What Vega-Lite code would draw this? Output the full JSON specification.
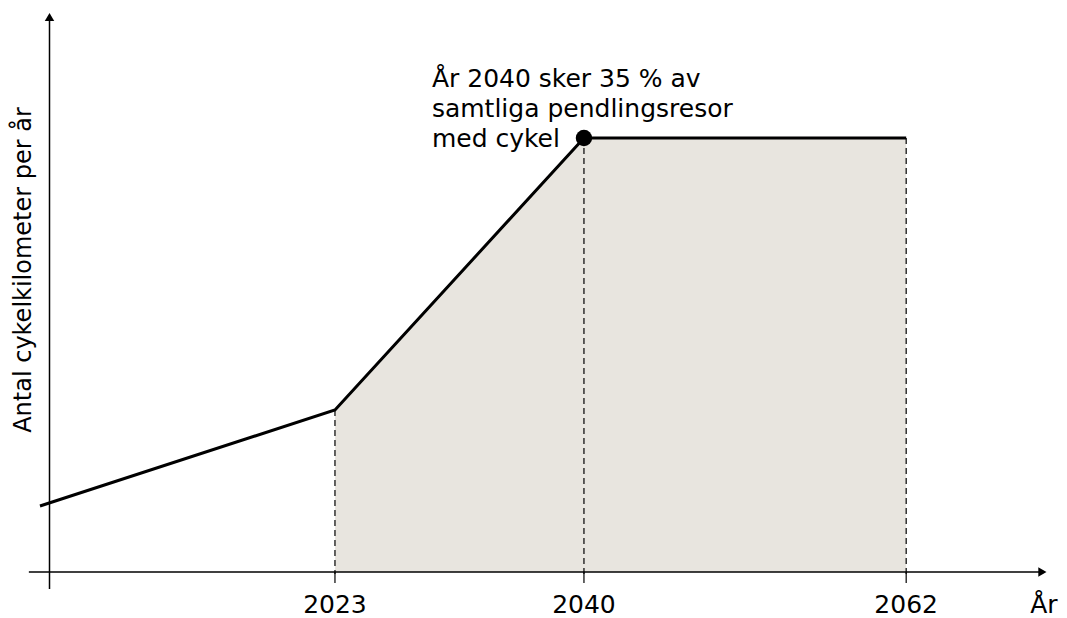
{
  "$schema": "https://vega.github.io/schema/vega-lite/v6.json",
  "width": 1067,
  "height": 618,
  "autosize": "none",
  "padding": 0,
  "background": "white",
  "config": {"view": {"stroke": null}, "font": "DejaVu Sans"},
  "datasets": {
    "line": [
      {"year": 2002.86, "v": 66},
      {"year": 2023, "v": 162},
      {"year": 2040, "v": 434},
      {"year": 2062, "v": 434}
    ],
    "area": [
      {"year": 2023, "v": 162},
      {"year": 2040, "v": 434},
      {"year": 2062, "v": 434}
    ],
    "ticks": [
      {"year": 2023, "v": 162, "label": "2023"},
      {"year": 2040, "v": 434, "label": "2040"},
      {"year": 2062, "v": 434, "label": "2062"}
    ],
    "xaxis": [{"x1": 2002.1, "x2": 2071.2, "y": 0}],
    "yaxis": [{"x": 2003.51, "y1": -17, "y2": 555}],
    "xarrow": [{"x": 2071.3, "y": 0}],
    "yarrow": [{"x": 2003.51, "y": 555}],
    "xtitle": [{"x": 2071.4, "y": -33, "t": "År"}],
    "ytitle": [{"x": 2001.8, "y": 302, "t": "Antal cykelkilometer per år"}],
    "peak": [{"year": 2040, "v": 434}],
    "note": [{"x": 2029.62, "y": 505, "t": "År 2040 sker 35 % av\nsamtliga pendlingsresor\nmed cykel"}]
  },
  "layer": [
    {
      "data": {"name": "area"},
      "mark": {"type": "area", "color": "#e8e5df", "opacity": 1},
      "encoding": {
        "x": {"field": "year", "type": "quantitative", "scale": {"domain": [2000.13, 2072.98], "nice": false, "zero": false}, "axis": null},
        "y": {"field": "v", "type": "quantitative", "scale": {"domain": [-46, 572], "nice": false, "zero": false}, "axis": null},
        "y2": {"datum": 0}
      }
    },
    {
      "data": {"name": "ticks"},
      "mark": {"type": "rule", "color": "black", "strokeWidth": 1.2, "strokeDash": [6, 4]},
      "encoding": {
        "x": {"field": "year", "type": "quantitative"},
        "y": {"field": "v", "type": "quantitative"},
        "y2": {"datum": -2}
      }
    },
    {
      "data": {"name": "ticks"},
      "mark": {"type": "rule", "color": "black", "strokeWidth": 1.2},
      "encoding": {
        "x": {"field": "year", "type": "quantitative"},
        "y": {"datum": -11, "type": "quantitative"},
        "y2": {"datum": 0}
      }
    },
    {
      "data": {"name": "ticks"},
      "mark": {"type": "text", "fontSize": 25, "baseline": "middle", "align": "center", "color": "black"},
      "encoding": {
        "x": {"field": "year", "type": "quantitative"},
        "y": {"datum": -33, "type": "quantitative"},
        "text": {"field": "label"}
      }
    },
    {
      "data": {"name": "xaxis"},
      "mark": {"type": "rule", "color": "black", "strokeWidth": 1.5},
      "encoding": {
        "x": {"field": "x1", "type": "quantitative"},
        "x2": {"field": "x2"},
        "y": {"field": "y", "type": "quantitative"}
      }
    },
    {
      "data": {"name": "yaxis"},
      "mark": {"type": "rule", "color": "black", "strokeWidth": 1.5},
      "encoding": {
        "x": {"field": "x", "type": "quantitative"},
        "y": {"field": "y1", "type": "quantitative"},
        "y2": {"field": "y2"}
      }
    },
    {
      "data": {"name": "xarrow"},
      "mark": {"type": "point", "shape": "triangle-right", "filled": true, "color": "black", "size": 90, "opacity": 1},
      "encoding": {
        "x": {"field": "x", "type": "quantitative"},
        "y": {"field": "y", "type": "quantitative"}
      }
    },
    {
      "data": {"name": "yarrow"},
      "mark": {"type": "point", "shape": "triangle-up", "filled": true, "color": "black", "size": 90, "opacity": 1},
      "encoding": {
        "x": {"field": "x", "type": "quantitative"},
        "y": {"field": "y", "type": "quantitative"}
      }
    },
    {
      "data": {"name": "line"},
      "mark": {"type": "line", "color": "black", "strokeWidth": 3},
      "encoding": {
        "x": {"field": "year", "type": "quantitative"},
        "y": {"field": "v", "type": "quantitative"}
      }
    },
    {
      "data": {"name": "peak"},
      "mark": {"type": "point", "shape": "circle", "filled": true, "color": "black", "size": 270, "opacity": 1},
      "encoding": {
        "x": {"field": "year", "type": "quantitative"},
        "y": {"field": "v", "type": "quantitative"}
      }
    },
    {
      "data": {"name": "xtitle"},
      "mark": {"type": "text", "fontSize": 25, "baseline": "middle", "align": "center", "color": "black"},
      "encoding": {
        "x": {"field": "x", "type": "quantitative"},
        "y": {"field": "y", "type": "quantitative"},
        "text": {"field": "t"}
      }
    },
    {
      "data": {"name": "ytitle"},
      "mark": {"type": "text", "fontSize": 24, "baseline": "middle", "align": "center", "angle": 270, "color": "black"},
      "encoding": {
        "x": {"field": "x", "type": "quantitative"},
        "y": {"field": "y", "type": "quantitative"},
        "text": {"field": "t"}
      }
    },
    {
      "data": {"name": "note"},
      "mark": {"type": "text", "fontSize": 25, "baseline": "top", "align": "left", "lineBreak": "\n", "lineHeight": 30, "color": "black"},
      "encoding": {
        "x": {"field": "x", "type": "quantitative"},
        "y": {"field": "y", "type": "quantitative"},
        "text": {"field": "t"}
      }
    }
  ]
}
